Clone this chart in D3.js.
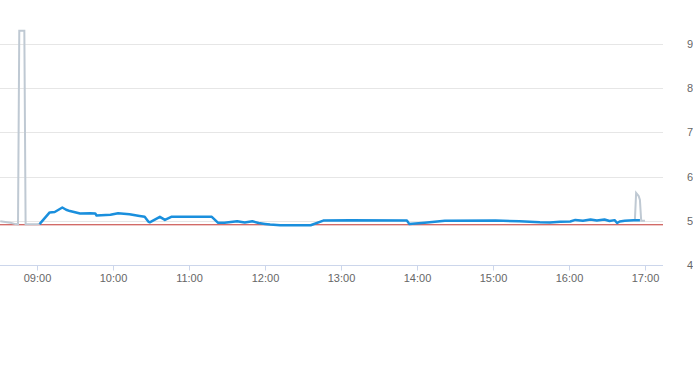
<!DOCTYPE html>
<html lang="en">
<head>
  <meta charset="UTF-8">
  <title>Intraday</title>
  <script src="https://cdn.jsdelivr.net/npm/d3@7"></script>
  <style>
    html, body { margin: 0; padding: 0; background: #fff; overflow: hidden; }
    svg { display: block; font-family: "Liberation Sans", Arial, sans-serif; }
  </style>
</head>
<body>
  <svg id="chart" width="693" height="365"></svg>
  <script>
    // trading session (blue)
    const sessionTimes = ['09:02','09:10','09:14','09:20','09:23','09:26','09:34','09:42','09:46','09:47',
      '09:58','10:04','10:13','10:21','10:25','10:28','10:29','10:37','10:41','10:46',
      '11:18','11:23','11:28','11:38','11:44','11:50','11:55','12:00','12:04','12:12',
      '12:36','12:46','13:07','13:52','13:54','14:06','14:22','15:02','15:21','15:37',
      '15:45','15:53','16:01','16:05','16:11','16:17','16:22','16:28','16:32','16:36',
      '16:38','16:40','16:44','16:51','16:56'];
    const sessionPrices = [4.925,5.19,5.20,5.30,5.25,5.22,5.165,5.17,5.165,5.12,
      5.135,5.17,5.15,5.11,5.09,4.98,4.965,5.09,5.02,5.09,
      5.09,4.955,4.955,4.99,4.96,4.99,4.95,4.93,4.915,4.90,
      4.90,5.005,5.015,5.005,4.925,4.955,5.00,5.005,4.99,4.965,
      4.96,4.98,4.985,5.02,5.00,5.03,5.005,5.03,4.995,5.015,
      4.95,4.985,5.00,5.015,5.015];

    // pre / post market (grey)
    const preTimes = ['08:31','08:39','08:43','08:45','08:46','08:50','08:51','09:00','09:02'];
    const prePrices = [4.99,4.955,4.925,4.92,9.30,9.30,4.92,4.92,4.925];
    const postTimes = ['16:52','16:53','16:55','16:56','16:57','17:00'];
    const postPrices = [5.00,5.63,5.56,5.47,5.00,5.00];

    const prevClose = 4.91;
    const xTicks = ['09:00','10:00','11:00','12:00','13:00','14:00','15:00','16:00','17:00'];
    const yTicks = [4, 5, 6, 7, 8, 9];

    const parse = d3.timeParse('%H:%M:%S');
    const t = s => parse(s.length === 5 ? s + ':00' : s);

    const svg = d3.select('#chart');
    const plotRight = 663;

    const x = d3.scaleTime()
      .domain([t('08:30:47'), t('17:14:13')])
      .range([0, plotRight]);
    const y = d3.scaleLinear().domain([4, 9]).range([265, 44]);

    // grid
    svg.append('g').selectAll('line')
      .data(yTicks.slice(1))
      .join('line')
      .attr('x1', 0).attr('x2', plotRight)
      .attr('y1', d => Math.round(y(d)) + 0.5).attr('y2', d => Math.round(y(d)) + 0.5)
      .attr('stroke', '#e6e6e6');

    // x axis
    const xAxis = d3.axisBottom(x)
      .tickValues(xTicks.map(t))
      .tickFormat(d3.timeFormat('%H:%M'))
      .tickSize(5)
      .tickPadding(4);
    const gx = svg.append('g').attr('transform', 'translate(0,265.5)').call(xAxis);
    gx.select('.domain').attr('d', `M0,0H${plotRight}`).attr('stroke', '#ccd6eb');
    gx.selectAll('.tick line').attr('stroke', '#ccd6eb');
    gx.selectAll('.tick text').attr('fill', '#666').style('font-size', '11px');

    // y labels (cut off by the right edge)
    svg.append('g').selectAll('text')
      .data(yTicks)
      .join('text')
      .attr('x', 687)
      .attr('y', d => y(d) + 4)
      .attr('fill', '#666')
      .style('font-size', '11px')
      .text(d => d);

    const line = d3.line().x(d => x(d[0])).y(d => y(d[1]));
    const zip = (ts, vs) => ts.map((s, i) => [t(s), vs[i]]);

    // previous close
    svg.append('line')
      .attr('x1', 0).attr('x2', plotRight)
      .attr('y1', y(prevClose)).attr('y2', y(prevClose))
      .attr('stroke', '#c23531').attr('stroke-width', 1);

    [zip(preTimes, prePrices), zip(postTimes, postPrices)].forEach(d => {
      svg.append('path')
        .datum(d)
        .attr('d', line)
        .attr('fill', 'none')
        .attr('stroke', '#bfc9d3')
        .attr('stroke-width', 2);
    });

    svg.append('path')
      .datum(zip(sessionTimes, sessionPrices))
      .attr('d', line)
      .attr('fill', 'none')
      .attr('stroke', '#1a8fdd')
      .attr('stroke-width', 2.5)
      .attr('stroke-linejoin', 'round');
  </script>
</body>
</html>
